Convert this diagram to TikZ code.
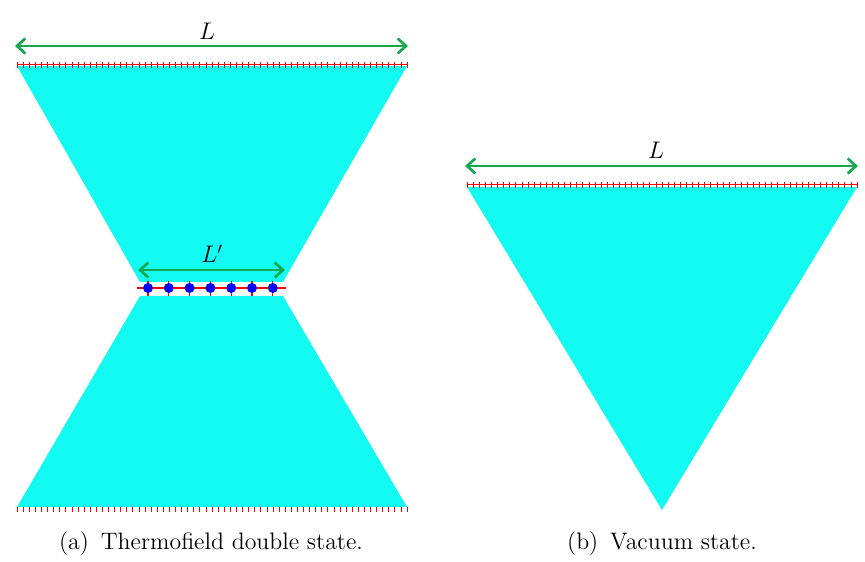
\documentclass[tikz,border=0pt]{standalone}
\usetikzlibrary{arrows.meta,calc}
\definecolor{bulk}{RGB}{18,250,242}
\definecolor{arrgreen}{RGB}{20,168,80}
\tikzset{
  bulkfill/.style={fill=bulk, draw=none},
  lenarrow/.style={draw=arrgreen, line width=1.6pt, {Straight Barb[length=5pt,width=9pt]}-{Straight Barb[length=5pt,width=9pt]}},
  cutoff/.style={draw=red, line width=0.6pt},
  tickmark/.style={draw=red, line width=0.4pt},
  site/.style={circle, fill=blue, inner sep=0pt, minimum size=6pt},
  caption/.style={font=\fontsize{14.3}{17}\selectfont},
  lab/.style={font=\fontsize{14}{17}\selectfont},
}
\begin{document}
\begin{tikzpicture}[x=0.6pt,y=-0.6pt]
\useasboundingbox (0,0) rectangle (865,562);
% ---- (a) thermofield double
\fill[bulkfill] (17,66) -- (407,66) -- (283,282) -- (140,282) -- cycle;
\fill[bulkfill] (140,296) -- (283,296) -- (407,507) -- (17,507) -- cycle;
\coordinate (atl) at (17,65);
\coordinate (atr) at (407,65);
\draw[cutoff] (atl) -- (atr);
\foreach \i in {0,...,64} {
  \draw[tickmark] ($(atl)+(\i*6.09375,-3)$) -- ++(0,6);
}
\foreach \i in {0,...,64} {
  \draw[tickmark] (17+\i*6.09375,507) -- ++(0,5);
}
\coordinate (La) at (15,46);
\coordinate (Lb) at (408,46);
\draw[lenarrow] (La) -- (Lb);
\node[lab] (Ltxt) at (207,31) {$L$};
\coordinate (Lpa) at (138,270);
\coordinate (Lpb) at (285,270);
\draw[lenarrow] (Lpa) -- (Lpb);
\node[lab] (Lptxt) at (212,254) {$L'$};
\coordinate (ml) at (137,288);
\coordinate (mr) at (286,288);
\draw[draw=red, line width=1pt] (ml) -- (mr);
\foreach \k in {0,...,6} {
  \draw[draw=red, line width=0.8pt] (148+\k*20.8,281) -- (148+\k*20.8,296);
  \node[site] (s\k) at (148+\k*20.8,288) {};
}
\node[caption] (capa) at (211,544) {(a)\hspace{0.5em}Thermofield double state.};
% ---- (b) vacuum
\fill[bulkfill] (467,187) -- (857,187) -- (662,510) -- cycle;
\coordinate (btl) at (467,185);
\coordinate (btr) at (857,185);
\draw[cutoff] (btl) -- (btr);
\foreach \i in {0,...,64} {
  \draw[tickmark] (467+\i*6.09375,182) -- ++(0,6);
}
\coordinate (Lc) at (465,166);
\coordinate (Ld) at (858,166);
\draw[lenarrow] (Lc) -- (Ld);
\node[lab] (Ltxtb) at (656,150) {$L$};
\node[caption] (capb) at (662,544) {(b)\hspace{0.5em}Vacuum state.};
\end{tikzpicture}
\end{document}
